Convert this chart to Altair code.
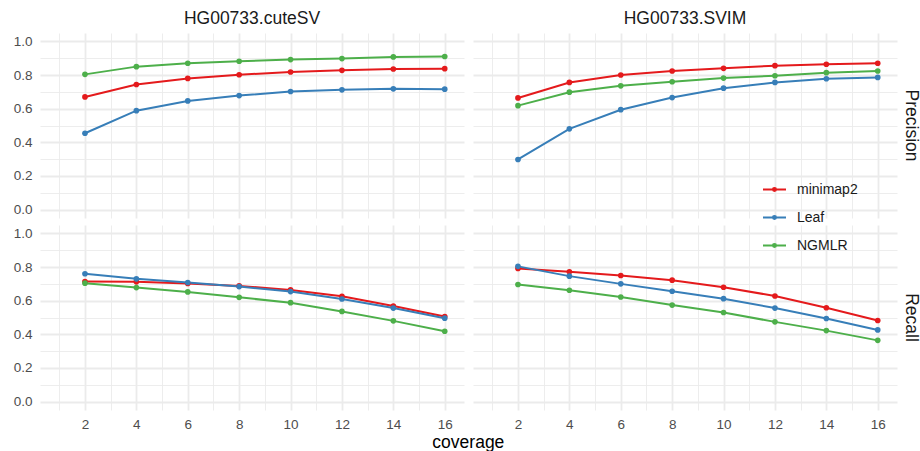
import altair as alt
import pandas as pd

coverage = [2, 4, 6, 8, 10, 12, 14, 16]
aligners = ["minimap2", "Leaf", "NGMLR"]
callers = ["HG00733.cuteSV", "HG00733.SVIM"]
metrics = ["Precision", "Recall"]
colors = ["#E41A1C", "#377EB8", "#4DAF4A"]

cutesv_precision_minimap2 = [0.670, 0.744, 0.780, 0.802, 0.818, 0.828, 0.836, 0.838]
cutesv_precision_leaf = [0.454, 0.588, 0.646, 0.678, 0.702, 0.712, 0.718, 0.716]
cutesv_precision_ngmlr = [0.804, 0.850, 0.870, 0.882, 0.892, 0.898, 0.908, 0.910]
svim_precision_minimap2 = [0.664, 0.756, 0.800, 0.824, 0.840, 0.856, 0.864, 0.870]
svim_precision_leaf = [0.298, 0.480, 0.594, 0.666, 0.722, 0.756, 0.778, 0.786]
svim_precision_ngmlr = [0.618, 0.698, 0.736, 0.760, 0.782, 0.796, 0.814, 0.824]
cutesv_recall_minimap2 = [0.714, 0.712, 0.702, 0.688, 0.664, 0.626, 0.568, 0.506]
cutesv_recall_leaf = [0.760, 0.730, 0.708, 0.684, 0.654, 0.610, 0.556, 0.496]
cutesv_recall_ngmlr = [0.704, 0.678, 0.652, 0.620, 0.588, 0.536, 0.480, 0.418]
svim_recall_minimap2 = [0.792, 0.772, 0.750, 0.722, 0.680, 0.628, 0.558, 0.482]
svim_recall_leaf = [0.804, 0.746, 0.700, 0.656, 0.612, 0.556, 0.494, 0.426]
svim_recall_ngmlr = [0.696, 0.662, 0.622, 0.574, 0.530, 0.474, 0.422, 0.364]

series = {
    ("HG00733.cuteSV", "Precision"): [cutesv_precision_minimap2, cutesv_precision_leaf, cutesv_precision_ngmlr],
    ("HG00733.SVIM", "Precision"): [svim_precision_minimap2, svim_precision_leaf, svim_precision_ngmlr],
    ("HG00733.cuteSV", "Recall"): [cutesv_recall_minimap2, cutesv_recall_leaf, cutesv_recall_ngmlr],
    ("HG00733.SVIM", "Recall"): [svim_recall_minimap2, svim_recall_leaf, svim_recall_ngmlr],
}

rows = []
for (caller, metric), vals in series.items():
    for aligner, ys in zip(aligners, vals):
        for c, v in zip(coverage, ys):
            rows.append({"caller": caller, "metric": metric, "aligner": aligner,
                         "coverage": c, "value": v})
df = pd.DataFrame(rows)

x_enc = alt.X(
    "coverage:Q",
    scale=alt.Scale(domain=[0.25, 16.75], nice=False, zero=False),
    axis=alt.Axis(
        values=list(range(1, 17)),
        labelExpr="datum.value % 2 == 0 ? datum.label : ''",
        gridWidth={"condition": {"test": "datum.value % 2 == 1", "value": 0.9}, "value": 1.8},
        labelPadding=7,
        title=None,
    ),
)
y_enc = alt.Y(
    "value:Q",
    scale=alt.Scale(domain=[-0.05, 1.05], nice=False, zero=False),
    axis=alt.Axis(
        values=[round(i * 0.1, 1) for i in range(11)],
        labelExpr="round(datum.value * 10) % 2 == 0 ? format(datum.value, '.1f') : ''",
        gridWidth={"condition": {"test": "round(datum.value * 10) % 2 == 1", "value": 0.9}, "value": 1.8},
        labelPadding=8,
        title=None,
    ),
)
legend_path = "M-1,0L1,0M-0.13,0A0.13,0.13,0,1,1,0.13,0A0.13,0.13,0,1,1,-0.13,0Z"
color_enc = alt.Color(
    "aligner:N",
    scale=alt.Scale(domain=aligners, range=colors),
    legend=alt.Legend(
        title=None, orient="none", legendX=722, legendY=144,
        symbolType=legend_path, symbolSize=529, symbolStrokeWidth=2,
        labelFontSize=14, labelColor="#1A1A1A", labelFont="Liberation Sans",
        rowPadding=8, labelOffset=10,
    ),
)

base = alt.Chart(df).encode(x=x_enc, y=y_enc, color=color_enc)
line = base.mark_line(strokeWidth=2)
pts = base.mark_point(filled=True, size=32, opacity=1)

chart = alt.layer(line, pts).properties(width=424, height=185).facet(
    column=alt.Column("caller:N", sort=callers,
                      header=alt.Header(title=None, labelFontSize=17.5, labelColor="#1A1A1A",
                                        labelFont="Liberation Sans", labelPadding=6)),
    row=alt.Row("metric:N", sort=metrics,
                header=alt.Header(title=None, labelOrient="right", labelAngle=90,
                                  labelFontSize=17.5, labelColor="#1A1A1A",
                                  labelFont="Liberation Sans", labelPadding=5)),
    spacing={"row": 7, "column": 9},
).properties(
    title=alt.TitleParams("coverage", orient="bottom", anchor="middle", fontSize=17.5,
                          fontWeight="normal", font="Liberation Sans", color="#000000",
                          offset=3, dx=2),
    padding={"left": 13, "top": 9, "right": 0, "bottom": 0},
).configure_view(stroke=None).configure_axis(
    domain=False, ticks=False, labelColor="#4D4D4D", labelFontSize=13.5,
    labelFont="Liberation Sans", gridColor="#EBEBEB",
)

chart.save("out.html", embed_options={"renderer": "svg", "actions": False})
